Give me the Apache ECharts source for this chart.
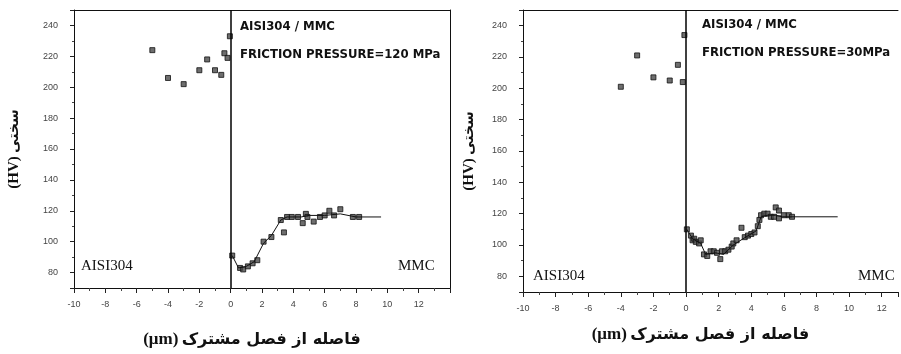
<!DOCTYPE html>
<html>
<head>
<meta charset="utf-8">
<script src="https://cdn.jsdelivr.net/npm/echarts@6/dist/echarts.min.js"></script>
<style>
  html, body { margin: 0; padding: 0; background: #fff; }
  #chart { width: 901px; height: 354px; }
</style>
</head>
<body>
<div id="chart"></div>
<script>
// panel 1 : friction pressure 120 MPa
var steel120 = [[-5, 224], [-4, 206], [-3, 202], [-2, 211], [-1.5, 218], [-1, 211], [-0.6, 208], [-0.4, 222], [-0.2, 219], [-0.05, 233]];
var mmc120 = [[0.1, 91], [0.6, 83], [0.8, 82], [1.1, 84], [1.4, 86], [1.7, 88], [2.1, 100], [2.6, 103], [3.2, 114], [3.4, 106],
  [3.6, 116], [3.9, 116], [4.3, 116], [4.6, 112], [4.8, 118], [4.9, 116], [5.3, 113], [5.7, 116], [6.0, 117], [6.3, 120],
  [6.6, 117], [7.0, 121], [7.8, 116], [8.2, 116]];
var fit120 = [[0.1, 91], [0.5, 83], [1.0, 84], [1.5, 87], [2.1, 99], [2.6, 104], [3.2, 114], [3.6, 116], [4.5, 116],
  [5.0, 117], [6.0, 117], [7.0, 118], [8.0, 116], [9.6, 116]];

// panel 2 : friction pressure 30 MPa
var steel30 = [[-4, 201], [-3, 221], [-2, 207], [-1, 205], [-0.5, 215], [-0.2, 204], [-0.1, 234]];
var mmc30 = [[0.05, 110], [0.3, 106], [0.4, 103], [0.5, 104], [0.6, 102], [0.8, 101], [0.9, 103], [1.1, 94], [1.3, 93],
  [1.5, 96], [1.7, 96], [1.9, 95], [2.1, 91], [2.2, 96], [2.4, 96], [2.6, 97], [2.8, 99], [2.9, 101], [3.1, 103], [3.4, 111],
  [3.6, 105], [3.8, 106], [4.0, 107], [4.2, 108], [4.4, 112], [4.5, 116], [4.6, 119], [4.8, 120], [5.0, 120], [5.2, 118],
  [5.4, 118], [5.5, 124], [5.7, 122], [5.7, 117], [6.0, 119], [6.3, 119], [6.5, 118]];
var fit30 = [[0.05, 110], [0.4, 104], [0.9, 101], [1.2, 94], [1.8, 95], [2.3, 94], [2.9, 100], [3.5, 104], [4.3, 109],
  [4.6, 118], [5.0, 119], [5.5, 119], [5.9, 118], [6.5, 118], [9.3, 118]];

var panelTitles = ['AISI304 / MMC', 'FRICTION PRESSURE=120 MPa', 'FRICTION PRESSURE=30MPa'];
var xTitleUnit = '(μm)';
var xTitleWords = 'فاصله از فصل مشترک';
var yTitleUnit = '(HV)';
var yTitleWord = 'سختی';

var tickFont = { fontSize: 9, color: '#444', fontFamily: 'Liberation Sans' };
var yTitleRich = {
  u: { fontFamily: 'Liberation Serif', fontWeight: 'bold', fontSize: 15, color: '#111' },
  w: { fontFamily: 'DejaVu Sans', fontWeight: 'bold', fontSize: 14, color: '#111' }
};
var xTitleRich = {
  u: { fontFamily: 'Liberation Serif', fontWeight: 'bold', fontSize: 17, color: '#111' },
  w: { fontFamily: 'DejaVu Sans', fontWeight: 'bold', fontSize: 16, color: '#111' }
};

function bottomAxis(grid, max, gap) {
  return {
    type: 'value', gridIndex: grid, min: -10, max: max, interval: 2,
    axisLine: { onZero: false, lineStyle: { color: '#111', width: 1 } },
    axisTick: { length: 5, lineStyle: { color: '#222' } },
    minorTick: { show: true, splitNumber: 2, length: 3, lineStyle: { color: '#444' } },
    axisLabel: Object.assign({ margin: 12, showMaxLabel: false }, tickFont),
    splitLine: { show: false },
    name: '{u|' + xTitleUnit + '} {w|' + xTitleWords + '}',
    nameLocation: 'middle', nameGap: gap,
    nameTextStyle: { rich: xTitleRich, padding: [0, 20, 0, 0] }
  };
}
function topAxis(grid, max) {
  return {
    type: 'value', gridIndex: grid, min: -10, max: max, position: 'top',
    axisLine: { onZero: false, lineStyle: { color: '#111', width: 1 } },
    axisTick: { show: false }, axisLabel: { show: false }, splitLine: { show: false }
  };
}
function leftAxis(grid, gap) {
  return {
    type: 'value', gridIndex: grid, min: 70, max: 250, splitNumber: 9,
    axisLine: { show: true, onZero: false, lineStyle: { color: '#111', width: 1 } },
    axisTick: { show: true, length: 4, lineStyle: { color: '#222' } },
    minorTick: { show: true, splitNumber: 2, length: 2, lineStyle: { color: '#444' } },
    axisLabel: Object.assign({ margin: 16, showMinLabel: false, showMaxLabel: false }, tickFont),
    splitLine: { show: false },
    name: '{u|' + yTitleUnit + '} {w|' + yTitleWord + '}',
    nameLocation: 'middle', nameRotate: 90, nameGap: gap,
    nameTextStyle: { rich: yTitleRich }
  };
}

var pointStyle = { color: '#4a4a4a', borderColor: '#111', borderWidth: 1 };
var zeroLine = {
  silent: true, symbol: 'none', label: { show: false },
  lineStyle: { color: '#000', width: 1.5, type: 'solid' },
  data: [{ xAxis: 0 }]
};

function scatter(data, xi, yi, withLine) {
  var s = { type: 'scatter', xAxisIndex: xi, yAxisIndex: yi, data: data, symbol: 'rect', symbolSize: 5, itemStyle: pointStyle };
  if (withLine) s.markLine = zeroLine;
  return s;
}
function fit(data, xi, yi) {
  return { type: 'line', xAxisIndex: xi, yAxisIndex: yi, data: data, showSymbol: false, lineStyle: { color: '#111', width: 1 } };
}

var boldLabel = { fontFamily: '"DejaVu Sans Condensed", "DejaVu Sans"', fontWeight: 'bold', fontSize: 13, fill: '#111' };
var serifLabel = { fontFamily: 'Liberation Serif', fontSize: 15, fill: '#111' };

var chart = echarts.init(document.getElementById('chart'), null, { renderer: 'canvas' });
chart.setOption({
  backgroundColor: '#fff',
  animation: false,
  grid: [
    { left: 74, right: 451, top: 10, bottom: 66 },
    { left: 523, right: 3, top: 10, bottom: 62 }
  ],
  xAxis: [bottomAxis(0, 14, 43), bottomAxis(1, 13, 34), topAxis(0, 14), topAxis(1, 13)],
  yAxis: [
    leftAxis(0, 52),
    leftAxis(1, 46),
    {
      type: 'value', gridIndex: 0, min: 70, max: 250, position: 'right',
      axisLine: { show: true, onZero: false, lineStyle: { color: '#111', width: 1 } },
      axisTick: { show: false }, axisLabel: { show: false }, splitLine: { show: false }
    }
  ],
  series: [
    scatter(steel120, 0, 0, true),
    scatter(mmc120, 0, 0, false),
    fit(fit120, 0, 0),
    scatter(steel30, 1, 1, true),
    scatter(mmc30, 1, 1, false),
    fit(fit30, 1, 1)
  ],
  graphic: [
    { type: 'text', left: 240, top: 20, style: Object.assign({ text: panelTitles[0] }, boldLabel) },
    { type: 'text', left: 240, top: 48, style: Object.assign({ text: panelTitles[1] }, boldLabel) },
    { type: 'text', left: 702, top: 18, style: Object.assign({ text: panelTitles[0] }, boldLabel) },
    { type: 'text', left: 702, top: 46, style: Object.assign({ text: panelTitles[2] }, boldLabel) },
    { type: 'text', left: 81, top: 259, style: Object.assign({ text: 'AISI304' }, serifLabel) },
    { type: 'text', left: 398, top: 259, style: Object.assign({ text: 'MMC' }, serifLabel) },
    { type: 'text', left: 533, top: 269, style: Object.assign({ text: 'AISI304' }, serifLabel) },
    { type: 'text', left: 858, top: 269, style: Object.assign({ text: 'MMC' }, serifLabel) }
  ]
});
</script>
</body>
</html>
